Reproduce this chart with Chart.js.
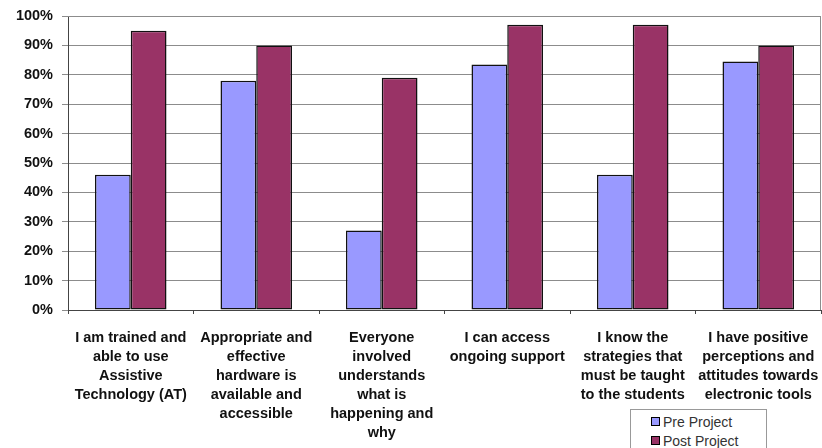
<!DOCTYPE html>
<html>
<head>
<meta charset="utf-8">
<script src="https://cdn.jsdelivr.net/npm/chart.js@4"></script>
<style>
    html, body { margin: 0; padding: 0; background: #fff; }
    #wrap { position: relative; width: 822px; height: 448px; }
    #leyenda {
        position: absolute; left: 630px; top: 409px; width: 137px; height: 45px;
        border: 1px solid #999; box-sizing: border-box; background: #fff;
        font: 14px "Liberation Sans", Arial, sans-serif; color: #333;
        padding: 3px 0 0 20px;
    }
    #leyenda div { height: 19px; line-height: 19px; }
    #leyenda span {
        display: inline-block; width: 7px; height: 7px; border: 1px solid #000;
        margin-right: 3px; vertical-align: 1px;
    }
</style>
</head>
<body>
<div id="wrap">
    <canvas id="grafico" width="822" height="448"></canvas>
    <div id="leyenda"></div>
</div>
<script>
// Categorías (etiquetas del eje X, en varias líneas)
const categorias = [
    ['I am trained and', 'able to use', 'Assistive', 'Technology (AT)'],
    ['Appropriate and', 'effective', 'hardware is', 'available and', 'accessible'],
    ['Everyone', 'involved', 'understands', 'what is', 'happening and', 'why'],
    ['I can access', 'ongoing support'],
    ['I know the', 'strategies that', 'must be taught', 'to the students'],
    ['I have positive', 'perceptions and', 'attitudes towards', 'electronic tools']
];

// Porcentajes antes y después del proyecto
const preProyecto = [46, 78, 27, 83.5, 46, 84.5];
const postProyecto = [95, 90, 79, 97, 97, 90];

// Marcas del eje Y
const marcasY = [0, 10, 20, 30, 40, 50, 60, 70, 80, 90, 100];

const fuente = '"Liberation Sans", Arial, sans-serif';

// Marco gris alrededor del área de trazado
const marcoArea = {
    id: 'marcoArea',
    afterDraw(chart) {
        const { ctx, chartArea: a } = chart;
        ctx.save();
        ctx.strokeStyle = '#8c8c8c';
        ctx.lineWidth = 1;
        ctx.beginPath();
        ctx.moveTo(a.left, a.top + 0.5);
        ctx.lineTo(a.right - 0.5, a.top + 0.5);
        ctx.lineTo(a.right - 0.5, a.bottom);
        ctx.stroke();
        ctx.restore();
    }
};

const grafico = new Chart(document.getElementById('grafico').getContext('2d'), {
    type: 'bar',
    data: {
        labels: categorias,
        datasets: [{
            label: 'Pre Project',
            data: preProyecto,
            backgroundColor: '#9999ff',
            borderColor: '#111',
            borderWidth: 1.5,
            borderSkipped: false
        }, {
            label: 'Post Project',
            data: postProyecto,
            backgroundColor: '#993366',
            borderColor: '#111',
            borderWidth: 1.5,
            borderSkipped: false
        }]
    },
    options: {
        responsive: false,
        animation: false,
        layout: { padding: { top: 16, right: 1, left: 0, bottom: 0 } },
        datasets: { bar: { categoryPercentage: 0.57, barPercentage: 1 } },
        scales: {
            x: {
                grid: { drawOnChartArea: false, drawTicks: true, tickLength: 4, color: '#444' },
                border: { color: '#444' },
                ticks: {
                    color: '#111',
                    autoSkip: false,
                    maxRotation: 0,
                    padding: 15,
                    font: { family: fuente, size: 14.5, weight: 'bold', lineHeight: 1.3 }
                },
                afterFit(escala) {
                    escala.height = 138;
                    escala.paddingLeft = 0;
                    escala.paddingRight = 0;
                }
            },
            y: {
                min: 0,
                max: 100,
                afterBuildTicks(escala) { escala.ticks = marcasY.map(v => ({ value: v })); },
                grid: { color: '#8c8c8c', tickLength: 6 },
                border: { color: '#444' },
                ticks: {
                    color: '#111',
                    padding: 9,
                    font: { family: fuente, size: 14.5, weight: 'bold' },
                    callback: v => v + '%'
                },
                afterFit(escala) {
                    escala.width = 68;
                    escala.paddingTop = 0;
                    escala.paddingBottom = 0;
                }
            }
        },
        plugins: {
            legend: { display: false },
            tooltip: { enabled: false }
        }
    },
    plugins: [marcoArea]
});

// Leyenda construida a partir de las series
document.getElementById('leyenda').innerHTML = grafico.data.datasets
    .map(ds => `<div><span style="background:${ds.backgroundColor}"></span>${ds.label}</div>`)
    .join('');
</script>
</body>
</html>
